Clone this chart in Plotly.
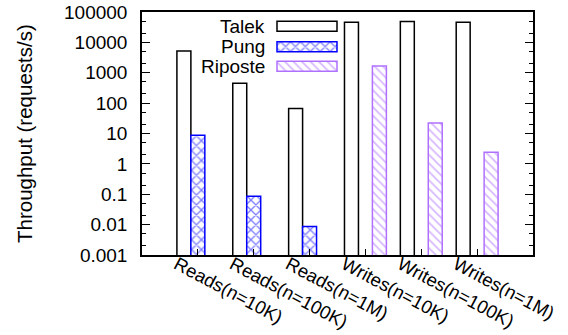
import plotly.graph_objects as go

categories = ["Reads(n=10K)", "Reads(n=100K)", "Reads(n=1M)",
              "Writes(n=10K)", "Writes(n=100K)", "Writes(n=1M)"]
talek = [5200, 450, 67, 45700, 49000, 45700]
pung = [8.7, 0.086, 0.0087, None, None, None]
riposte = [None, None, None, 1670, 22, 2.4]

series_names = ["Talek", "Pung", "Riposte"]
ytick_vals = [0.001, 0.01, 0.1, 1, 10, 100, 1000, 10000, 100000]
ytick_text = ["0.001", "0.01", "0.1", "1", "10", "100", "1000", "10000", "100000"]
y_title = "Throughput (requests/s)"

FONT = "Liberation Sans, Arial, sans-serif"
FS = 19
BLUE = "#0000ff"
VIOLET = "#b070ff"

styles = {
    "Talek": dict(color="white", line=dict(color="black", width=1.5)),
    "Pung": dict(color="white", line=dict(color=BLUE, width=1.5),
                 pattern=dict(shape="x", fgcolor=BLUE, bgcolor="white", size=7, solidity=0.35)),
    "Riposte": dict(color="white", line=dict(color=VIOLET, width=1.5),
                    pattern=dict(shape="\\", fgcolor=VIOLET, bgcolor="white", size=6, solidity=0.3)),
}

fig = go.Figure()
for name, vals in zip(series_names, [talek, pung, riposte]):
    fig.add_trace(go.Bar(x=categories, y=vals, name=name, marker=styles[name],
                         showlegend=False))

# custom legend (text left, sample right) on an overlay axis in pixel units
L, R, T, B = 142, 35, 12, 80
W, H = 568, 335
leg_rows = [26.3, 46.8, 66.3]
for name, yy in zip(series_names, leg_rows):
    fig.add_trace(go.Bar(x=[60], y=[yy], base=[277], width=[10], orientation="h",
                         marker=styles[name], xaxis="x2", yaxis="y2",
                         showlegend=False, hoverinfo="skip"))
    fig.add_annotation(x=267, y=yy, xref="x2", yref="y2", text=name, showarrow=False,
                       xanchor="right", yanchor="middle",
                       font=dict(family=FONT, size=FS, color="black"))

pw, ph = W - L - R, H - T - B
fig.add_annotation(x=(24 - L) / pw, y=(H - B - 134) / ph, xref="paper", yref="paper",
                   text=y_title, textangle=-90, showarrow=False,
                   xanchor="center", yanchor="middle",
                   font=dict(family=FONT, size=20.5, color="black"))

fig.update_layout(
    width=W, height=H,
    margin=dict(l=L, r=R, t=T, b=B, autoexpand=False),
    paper_bgcolor="white", plot_bgcolor="white",
    barmode="group", bargap=0.25, bargroupgap=0,
    font=dict(family=FONT, size=FS, color="black"),
    xaxis=dict(type="category", range=[-1, 6], showline=True, linecolor="black",
               linewidth=1.5, mirror=True, ticks="inside", ticklen=6, tickwidth=1,
               tickcolor="black", tickangle=28, showgrid=False, zeroline=False,
               automargin=False, ticklabelshift=-21, ticklabelstandoff=-10,
               tickfont=dict(family=FONT, size=18.5)),
    yaxis=dict(type="log", range=[-3, 5], tickmode="array", tickvals=ytick_vals,
               ticktext=ytick_text, showline=True, linecolor="black", linewidth=1.5,
               mirror="ticks", ticks="inside", ticklen=8, tickwidth=1, tickcolor="black",
               minor=dict(ticks="inside", ticklen=4, dtick="D2", tickcolor="black"),
               showgrid=False, zeroline=False, automargin=False, ticklabelstandoff=9,
               tickfont=dict(family=FONT, size=FS)),
    xaxis2=dict(overlaying="x", range=[L, W - R], visible=False, fixedrange=True),
    yaxis2=dict(overlaying="y", range=[H - B, T], visible=False, fixedrange=True),
)

fig.write_html("out.html", config={"displayModeBar": False},
               post_script="document.body.style.margin='0';document.body.style.padding='0';")
